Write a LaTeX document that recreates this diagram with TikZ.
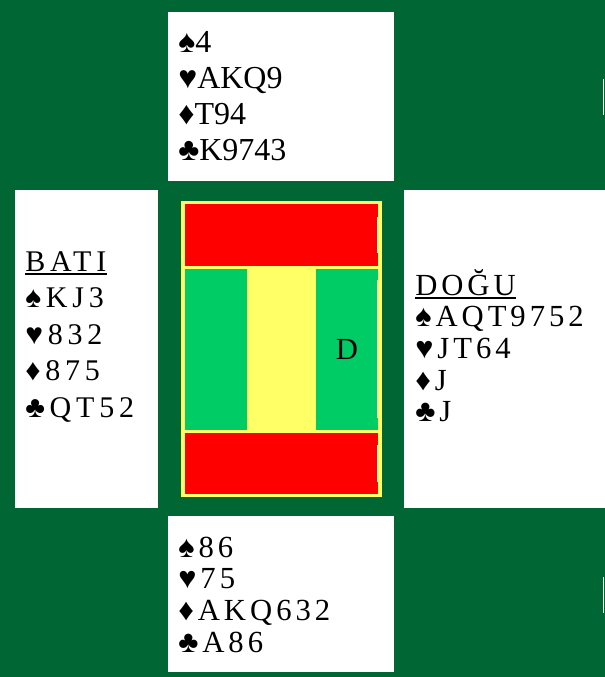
\documentclass[tikz,border=0pt]{standalone}
\usepackage{fontspec}
\setmainfont{Liberation Serif}
\newfontfamily\wideserif[LetterSpace=13]{Liberation Serif}
\newfontfamily\widerserif[LetterSpace=16]{Liberation Serif}
\usetikzlibrary{calc}
\definecolor{table-green}{HTML}{006633}
\definecolor{board-green}{HTML}{00CC66}
\definecolor{board-red}{HTML}{FF0000}
\definecolor{board-yellow}{HTML}{FFFF66}

\begin{document}
\begin{tikzpicture}[
    x=0.75pt, y=-0.75pt,
    handbox/.style={fill=white},
    cardline/.style={anchor=base west, inner sep=0pt, text=black},
    northline/.style={cardline, font=\fontsize{24}{28}\selectfont},
    westline/.style={cardline, font=\widerserif\fontsize{22.5}{26}\selectfont},
    eastline/.style={cardline, font=\wideserif\fontsize{23}{26}\selectfont},
    uline/.style={draw=black, line width=1pt},
    sliver/.style={fill=white}
]
    \useasboundingbox (0,0) rectangle (605,677);
    \fill[table-green] (0,0) rectangle (605,677);

    % Hand boxes
    \fill[handbox] (168,12) rectangle (394,181);
    \fill[handbox] (15,190) rectangle (158,508);
    \fill[handbox] (404,190) rectangle (605,508);
    \fill[handbox] (168,516) rectangle (394,672);

    % Board in the middle
    \fill[board-yellow] (181,201) rectangle (382,497);
    \fill[board-red] (185,204) rectangle (378,266);
    \fill[board-green] (185,269) rectangle (247,430);
    \fill[board-green] (316,269) rectangle (378,430);
    \fill[board-red] (185,433) rectangle (378,494);
    \node (dealer) [cardline, anchor=center, font=\fontsize{23}{26}\selectfont] at (347,349.5) {D};

    % Stray white marks
    \fill[sliver] (377,217) rectangle (378,253);
    \fill[sliver] (377,280) rectangle (378,418);
    \fill[sliver] (377,445) rectangle (378,482);
    \fill[sliver] (602.5,79) rectangle (603.5,115);
    \fill[sliver] (602.5,577) rectangle (603.5,613);

    % North
    \foreach \cards [count=\i] in {♠4, ♥AKQ9, ♦T94, ♣K9743} {
        \node (north\i) [northline] at (178, 17+\i*36) {\cards};
    }

    % West
    \node (bati) [westline] at (25,271) {BATI};
    \draw[uline] ($(bati.base west)+(0,3)$) -- ($(bati.base east)+(0,3)$);
    \foreach \cards [count=\i] in {♠KJ3, ♥832, ♦875, ♣QT52} {
        \node (west\i) [westline] at (25, 271+\i*36.5) {\cards};
    }

    % East
    \node (dogu) [eastline] at (415,295) {DOĞU};
    \draw[uline] ($(dogu.base west)+(0,3)$) -- ($(dogu.base east)+(0,3)$);
    \foreach \cards [count=\i] in {♠AQT9752, ♥JT64, ♦J, ♣J} {
        \node (east\i) [eastline] at (415, 295+\i*31.7) {\cards};
    }

    % South
    \foreach \cards [count=\i] in {♠86, ♥75, ♦AKQ632, ♣A86} {
        \node (south\i) [eastline] at (178, 525.5+\i*31.7) {\cards};
    }
\end{tikzpicture}
\end{document}
